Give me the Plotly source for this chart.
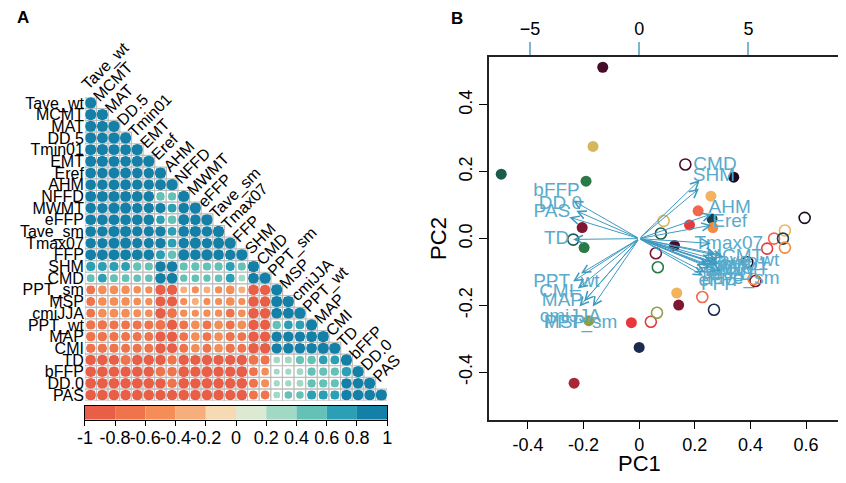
import numpy as np
import plotly.graph_objects as go

# ---------------- Panel A data: correlation matrix (lower triangle) ----------------
variables = ["Tave_wt", "MCMT", "MAT", "DD.5", "Tmin01", "EMT", "Eref", "AHM", "NFFD",
             "MWMT", "eFFP", "Tave_sm", "Tmax07", "FFP", "SHM", "CMD", "PPT_sm", "MSP",
             "cmiJJA", "PPT_wt", "MAP", "CMI", "TD", "bFFP", "DD.0", "PAS"]

corr_lower = [
    [1],
    [0.98, 1],
    [0.97, 0.95, 1],
    [0.96, 0.93, 0.99, 1],
    [0.97, 0.98, 0.94, 0.92, 1],
    [0.95, 0.96, 0.92, 0.90, 0.97, 1],
    [0.90, 0.88, 0.93, 0.94, 0.86, 0.85, 1],
    [0.88, 0.86, 0.90, 0.91, 0.85, 0.84, 0.93, 1],
    [0.93, 0.92, 0.94, 0.93, 0.90, 0.89, 0.58, 0.55, 1],
    [0.88, 0.85, 0.95, 0.96, 0.83, 0.82, 0.82, 0.62, 0.90, 1],
    [0.92, 0.90, 0.92, 0.91, 0.89, 0.88, 0.60, 0.58, 0.95, 0.87, 1],
    [0.88, 0.85, 0.95, 0.97, 0.83, 0.82, 0.85, 0.60, 0.90, 0.98, 0.87, 1],
    [0.87, 0.84, 0.94, 0.96, 0.82, 0.81, 0.86, 0.62, 0.88, 0.97, 0.85, 0.97, 1],
    [0.92, 0.91, 0.93, 0.92, 0.90, 0.88, 0.66, 0.57, 0.97, 0.88, 0.96, 0.88, 0.86, 1],
    [0.68, 0.65, 0.66, 0.62, 0.55, 0.52, 0.86, 0.88, 0.50, 0.55, 0.52, 0.55, 0.65, 0.50, 1],
    [0.48, 0.62, 0.50, 0.47, 0.45, 0.45, 0.88, 0.90, 0.42, 0.45, 0.42, 0.45, 0.62, 0.35, 0.90, 1],
    [-0.62, -0.60, -0.60, -0.58, -0.45, -0.42, -0.82, -0.83, -0.38, -0.40, -0.38, -0.42, -0.60, -0.38, -0.88, -0.86, 1],
    [-0.62, -0.60, -0.60, -0.58, -0.45, -0.42, -0.80, -0.82, -0.40, -0.38, -0.40, -0.40, -0.60, -0.40, -0.86, -0.85, 0.97, 1],
    [-0.62, -0.60, -0.60, -0.60, -0.48, -0.45, -0.86, -0.75, -0.42, -0.40, -0.42, -0.42, -0.62, -0.45, -0.87, -0.88, 0.92, 0.93, 1],
    [-0.68, -0.70, -0.65, -0.63, -0.65, -0.65, -0.78, -0.82, -0.62, -0.60, -0.62, -0.60, -0.65, -0.60, -0.84, -0.82, 0.58, 0.60, 0.62, 1],
    [-0.70, -0.70, -0.66, -0.64, -0.65, -0.64, -0.82, -0.84, -0.62, -0.60, -0.62, -0.60, -0.66, -0.62, -0.86, -0.85, 0.85, 0.86, 0.84, 0.93, 1],
    [-0.68, -0.68, -0.66, -0.64, -0.65, -0.64, -0.84, -0.82, -0.62, -0.60, -0.62, -0.60, -0.68, -0.62, -0.86, -0.86, 0.84, 0.85, 0.86, 0.90, 0.97, 1],
    [-0.85, -0.86, -0.82, -0.78, -0.85, -0.84, -0.84, -0.70, -0.85, -0.82, -0.84, -0.82, -0.82, -0.84, -0.75, -0.66, 0.35, 0.38, 0.52, 0.58, 0.60, 0.62, 1],
    [-0.88, -0.88, -0.86, -0.84, -0.87, -0.86, -0.75, -0.72, -0.90, -0.84, -0.90, -0.84, -0.84, -0.92, -0.62, -0.45, 0.28, 0.30, 0.35, 0.52, 0.52, 0.55, 0.72, 1],
    [-0.90, -0.90, -0.88, -0.86, -0.90, -0.88, -0.85, -0.72, -0.88, -0.85, -0.88, -0.86, -0.86, -0.88, -0.65, -0.50, 0.30, 0.32, 0.36, 0.55, 0.55, 0.52, 0.85, 0.90, 1],
    [-0.88, -0.88, -0.88, -0.86, -0.86, -0.86, -0.84, -0.84, -0.86, -0.85, -0.86, -0.85, -0.84, -0.85, -0.64, -0.62, 0.35, 0.45, 0.45, 0.66, 0.66, 0.66, 0.85, 0.90, 0.92, 1],
]

colorbar_breaks = [-1.0, -0.8, -0.6, -0.4, -0.2, 0.0, 0.2, 0.4, 0.6, 0.8, 1.0]
colorbar_labels = ["-1", "-0.8", "-0.6", "-0.4", "-0.2", "0", "0.2", "0.4", "0.6", "0.8", "1"]
palette = ["#E95E47", "#EF744C", "#F48D56", "#F6AE7D", "#F5DAB3",
           "#DDEAD3", "#A2D9C5", "#64C1B6", "#2B9FB4", "#1580A7"]

# ---------------- Panel B data: PCA biplot ----------------
# loadings (in units of the top/right loading axes)
load_pc1 = [4.82, 4.37, 4.14, 4.23, 4.46, 3.92, 4.14, 4.14, 4.05, 4.55, 3.78, 4.68, 4.10,
            3.65, 3.42, 3.47, -2.66, -3.42, -3.15, -3.33, -3.51, -3.78, -3.78, -3.78, -3.60, -4.00]
load_pc2 = [-0.87, -0.72, -1.09, -1.17, -1.02, -1.24, 0.64, 1.17, -1.40, -1.21, -1.62, -1.55, -0.23,
            -1.77, 2.38, 2.79, -3.24, -3.24, -2.98, -1.66, -2.38, -2.04, -0.04, 1.81, 1.32, 1.02]

# scores
score_pc1 = [-0.131, -0.166, -0.496, -0.191, -0.205, -0.237, -0.198, -0.181, -0.028, 0.042,
             0.000, -0.234, 0.064, 0.060, 0.067, 0.088, 0.078, 0.127, 0.166, 0.340,
             0.258, 0.212, 0.262, 0.181, 0.265, 0.595, 0.524, 0.485, 0.517, 0.524,
             0.460, 0.389, 0.418, 0.411, 0.135, 0.142, 0.227, 0.269]
score_pc2 = [0.513, 0.276, 0.193, 0.172, 0.033, -0.003, -0.027, -0.246, -0.252, -0.249,
             -0.326, -0.433, -0.222, -0.044, -0.086, 0.053, 0.015, -0.021, 0.222, 0.184,
             0.127, 0.083, 0.059, 0.041, 0.033, 0.062, 0.024, 0.000, 0.000, -0.027,
             -0.030, -0.071, -0.127, -0.121, -0.163, -0.199, -0.175, -0.213]
score_group = ["darkmaroon", "yellow", "darkgreen", "green", "maroon", "darkgreen", "green", "olive",
               "red", "red", "navy", "crimson", "olive", "maroon", "green", "yellow", "darkgreen",
               "darkmaroon", "darkmaroon", "black", "tan", "coral", "darkteal", "red", "orange",
               "black", "tan", "coral", "darkteal", "orange", "red", "black", "maroon", "orange",
               "tan", "maroon", "coral", "navy"]
score_type = ["filled", "filled", "filled", "filled", "filled", "open", "filled", "filled",
              "filled", "open", "filled", "filled", "open", "open", "open", "open", "open",
              "filled", "open", "filled", "filled", "filled", "filled", "filled", "filled",
              "open", "open", "open", "open", "open", "open", "open", "open", "open",
              "filled", "filled", "open", "open"]
group_colors = {"darkmaroon": "#480C2B", "black": "#1B0B22", "maroon": "#7E1731", "crimson": "#A8283B",
                "red": "#E5393B", "coral": "#F2674E", "orange": "#F28A40", "tan": "#F2B35E",
                "yellow": "#D7B75B", "olive": "#8E9E48", "green": "#2A7A48", "darkgreen": "#1C5C4E",
                "darkteal": "#17444E", "navy": "#1C2B4F"}
pc1_ticks = [-0.4, -0.2, 0, 0.2, 0.4, 0.6]
pc1_ticklabels = ["-0.4", "-0.2", "0", "0.2", "0.4", "0.6"]
pc2_ticks = [-0.4, -0.2, 0, 0.2, 0.4]
pc2_ticklabels = ["-0.4", "-0.2", "0.0", "0.2", "0.4"]
load_ticks = [-5, 0, 5]

# ---------------- layout helpers ----------------
# the page body keeps an 8px margin, so the figure is drawn 8px in from the window corner
PAGE_W, PAGE_H, BODY = 846, 483, 8
W, H = PAGE_W - BODY, PAGE_H - BODY
FONT = "Liberation Sans, Arial, sans-serif"


def fx(px):
    return (px - BODY) / W


def fy(py):
    return 1 - (py - BODY) / H


def bin_color(r):
    k = int(np.floor((r + 1) / 0.2))
    return palette[min(max(k, 0), 9)]


n = len(variables)
cell_x, cell_y, dot_size, dot_col = [], [], [], []
for i, row in enumerate(corr_lower):
    for j, r in enumerate(row):
        cell_x.append(j)
        cell_y.append(i)
        dot_size.append(11.2 * np.sqrt(abs(r)))
        dot_col.append(bin_color(r))

fig = go.Figure()

# grid cells
fig.add_trace(go.Scatter(x=cell_x, y=cell_y, mode="markers", xaxis="x", yaxis="y",
                         marker=dict(symbol="square", size=11.8, color="white", opacity=1,
                                     line=dict(color="#BDBDBD", width=1.2)),
                         hoverinfo="skip", showlegend=False))
# correlation glyphs (rounded squares: circle + slightly smaller square)
fig.add_trace(go.Scatter(x=cell_x, y=cell_y, mode="markers", xaxis="x", yaxis="y",
                         marker=dict(symbol="circle", size=dot_size, color=dot_col, opacity=1,
                                     line=dict(width=0)),
                         hoverinfo="skip", showlegend=False))
fig.add_trace(go.Scatter(x=cell_x, y=cell_y, mode="markers", xaxis="x", yaxis="y",
                         marker=dict(symbol="square", size=[0.8 * s for s in dot_size], color=dot_col,
                                     opacity=1, line=dict(width=0)),
                         hoverinfo="skip", showlegend=False))

# colour legend as bars
centers = [(colorbar_breaks[k] + colorbar_breaks[k + 1]) / 2 for k in range(10)]
fig.add_trace(go.Bar(x=centers, y=[1] * 10, width=0.2, marker=dict(color=palette, line=dict(width=0)),
                     xaxis="x3", yaxis="y3", hoverinfo="skip", showlegend=False))

# PCA scores
for typ in ["filled", "open"]:
    idx = [k for k in range(len(score_pc1)) if score_type[k] == typ]
    cols = [group_colors[score_group[k]] for k in idx]
    if typ == "filled":
        mk = dict(symbol="circle", size=11, color=cols, opacity=1, line=dict(width=0))
    else:
        mk = dict(symbol="circle-open", size=11, color=cols, opacity=1, line=dict(width=1.6, color=cols))
    fig.add_trace(go.Scatter(x=[score_pc1[k] for k in idx], y=[score_pc2[k] for k in idx],
                             mode="markers", marker=mk, xaxis="x4", yaxis="y4",
                             hoverinfo="skip", showlegend=False))

# loading labels
fig.add_trace(go.Scatter(x=load_pc1, y=load_pc2, mode="text", text=variables,
                         textposition="middle center",
                         textfont=dict(size=19, color="#5AAACB", family=FONT),
                         xaxis="x5", yaxis="y5", hoverinfo="skip", showlegend=False))

annotations = []
# diagonal labels
for i, v in enumerate(variables):
    annotations.append(dict(x=i, y=i - 0.5, xref="x", yref="y", text=v, showarrow=False,
                            textangle=-45, xanchor="left", yanchor="bottom", xshift=-15, yshift=1,
                            font=dict(size=16, color="black", family=FONT)))
# arrows (drawn to 80% of the loading, labels at full loading)
for lx, ly in zip(load_pc1, load_pc2):
    annotations.append(dict(x=0.8 * lx, y=0.8 * ly, ax=0, ay=0, xref="x5", yref="y5",
                            axref="x5", ayref="y5", text="", showarrow=True, arrowhead=5,
                            arrowsize=1.6, arrowwidth=1, arrowcolor="#3F9AC0", standoff=0))
annotations += [
    dict(x=fx(15), y=fy(16), xref="paper", yref="paper", text="<b>A</b>", showarrow=False,
         xanchor="center", yanchor="middle", font=dict(size=17, color="black", family=FONT)),
    dict(x=fx(456), y=fy(17), xref="paper", yref="paper", text="<b>B</b>", showarrow=False,
         xanchor="center", yanchor="middle", font=dict(size=17, color="black", family=FONT)),
    dict(x=fx(641), y=fy(466), xref="paper", yref="paper", text="PC1", showarrow=False,
         xanchor="center", yanchor="middle", font=dict(size=22, color="black", family=FONT)),
    dict(x=fx(437), y=fy(239), xref="paper", yref="paper", text="PC2", showarrow=False,
         xanchor="center", yanchor="middle", textangle=-90,
         font=dict(size=22, color="black", family=FONT)),
]

# axis ranges for panel B
x4_range = [-0.5416, 0.7257]
y4_range = [-0.5422, 0.5452]
ratio = 12.725

fig.update_layout(
    width=W, height=H, margin=dict(l=0, r=0, t=0, b=0, pad=0),
    paper_bgcolor="white", plot_bgcolor="white",
    font=dict(family=FONT, color="black"),
    showlegend=False,
    xaxis=dict(domain=[fx(78), fx(385)], range=[-0.5, n - 0.5], visible=False, anchor="y"),
    yaxis=dict(domain=[fy(403), fy(96)], range=[n - 0.5, -0.5], tickvals=list(range(n)),
               ticktext=variables, ticks="", showgrid=False, zeroline=False, showline=False,
               tickfont=dict(size=16), anchor="x"),
    xaxis3=dict(domain=[fx(78), fx(385)], range=[-1, 1], anchor="y3", tickvals=colorbar_breaks,
                ticktext=colorbar_labels, tickangle=0, ticks="outside", ticklen=5, tickcolor="black",
                showline=True, mirror=True, linecolor="black", linewidth=1.2, showgrid=False,
                zeroline=False, tickfont=dict(size=18), ticklabelstandoff=-3),
    yaxis3=dict(domain=[fy(422), fy(408)], range=[0, 1], anchor="x3", showticklabels=False,
                ticks="", showline=True, mirror=True, linecolor="black", linewidth=1.2,
                showgrid=False, zeroline=False),
    xaxis4=dict(domain=[fx(488), 1.0], range=x4_range, anchor="y4", tickvals=pc1_ticks,
                ticktext=pc1_ticklabels, tickangle=0, ticks="outside", ticklen=8, tickcolor="black",
                showline=True, linecolor="#222", linewidth=1.5, showgrid=False, zeroline=False,
                tickfont=dict(size=18)),
    yaxis4=dict(domain=[fy(422), fy(55)], range=y4_range, anchor="x4", tickvals=pc2_ticks,
                ticktext=pc2_ticklabels, tickangle=-90, ticks="outside", ticklen=8, tickcolor="black",
                showline=True, linecolor="#222", linewidth=1.5, showgrid=False, zeroline=False,
                tickfont=dict(size=18)),
    xaxis5=dict(overlaying="x4", side="top", anchor="y4",
                range=[x4_range[0] * ratio, x4_range[1] * ratio], tickvals=load_ticks,
                ticks="outside", ticklen=13, tickcolor="#7BB5CE", tickwidth=1.5, showline=True,
                linecolor="#222", linewidth=1.5, showgrid=False, zeroline=False,
                tickfont=dict(size=18)),
    yaxis5=dict(overlaying="y4", side="right", anchor="x4",
                range=[y4_range[0] * ratio, y4_range[1] * ratio], visible=False),
    annotations=annotations,
)

fig.write_html("out.html")
